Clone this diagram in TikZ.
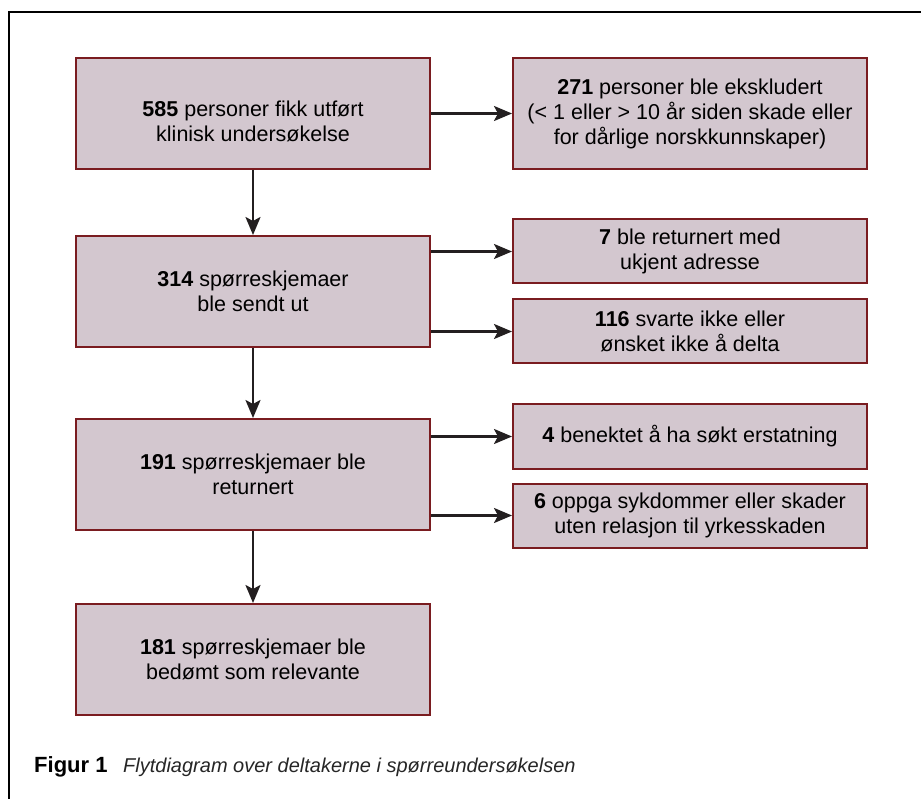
\documentclass[tikz,border=0pt]{standalone}
\usepackage{fontspec}
\setmainfont{Liberation Sans}
\usetikzlibrary{positioning,arrows.meta}
\definecolor{boxfill}{RGB}{211,199,207}
\definecolor{boxline}{RGB}{122,28,32}
\definecolor{arrowgray}{RGB}{35,31,32}

\begin{document}
\begin{tikzpicture}[x=1pt,y=1pt,
	main box/.style = {draw=boxline, fill=boxfill, line width=2pt, inner sep=0pt,
		minimum width=354pt, minimum height=111pt, align=center,
		font=\fontsize{21.5}{25}\selectfont},
	side box/.style = {main box, minimum height=64pt},
	arr/.style = {-{Stealth[length=18pt,width=15pt,inset=4pt]}, line width=2.5pt, draw=arrowgray}]
	\useasboundingbox (0,0) rectangle (921,-799);
	% frame
	\draw[line width=2pt] (9,-799) -- (9,-12) -- (921,-12);
	
	% main column
	\node[main box] (n585) at (253,-113.5) {\rule{0pt}{31pt}\textbf{585} personer fikk utført\\klinisk undersøkelse};
	\node[main box] [below=65pt of n585] (n314) {\textbf{314} spørreskjemaer\\ble sendt ut};
	\node[main box] [below=70pt of n314] (n191) {\textbf{191} spørreskjemaer ble\\returnert};
	\node[main box] [below=72pt of n191] (n181) {\textbf{181} spørreskjemaer ble\\bedømt som relevante};
	
	% excluded
	\node[main box] [right=81pt of n585] (n271) {\textbf{271} personer ble ekskludert\\(< 1 eller > 10 år siden skade eller\\for dårlige norskkunnskaper)};
	\node[side box] [right=81pt of n314, yshift=40pt] (n7) {\textbf{7} ble returnert med\\ukjent adresse};
	\node[side box] [right=81pt of n314, yshift=-40pt] (n116) {\textbf{116} svarte ikke eller\\ønsket ikke å delta};
	\node[side box] [right=81pt of n191, yshift=38pt] (n4) {\textbf{4} benektet å ha søkt erstatning};
	\node[side box] [right=81pt of n191, yshift=-41pt] (n6) {\textbf{6} oppga sykdommer eller skader\\uten relasjon til yrkesskaden};
	
	\draw[arr] (n585) -- (n314);
	\draw[arr] (n314) -- (n191);
	\draw[arr] (n191) -- (n181);
	\draw[arr] (n585) -- (n271);
	\draw[arr] (n314.east |- n7) -- (n7);
	\draw[arr] (n314.east |- n116) -- (n116);
	\draw[arr] (n191.east |- n4) -- (n4);
	\draw[arr] (n191.east |- n6) -- (n6);
	
	% caption
	\node[anchor=base west, inner sep=0pt, font=\fontsize{22}{22}\selectfont\bfseries] (figlabel) at (34,-772) {Figur 1};
	\node[anchor=base west, inner sep=0pt, font=\fontsize{20}{22}\selectfont\itshape, text=black!85] (figtext) at (123,-772) {Flytdiagram over deltakerne i spørreundersøkelsen};
\end{tikzpicture}
\end{document}
